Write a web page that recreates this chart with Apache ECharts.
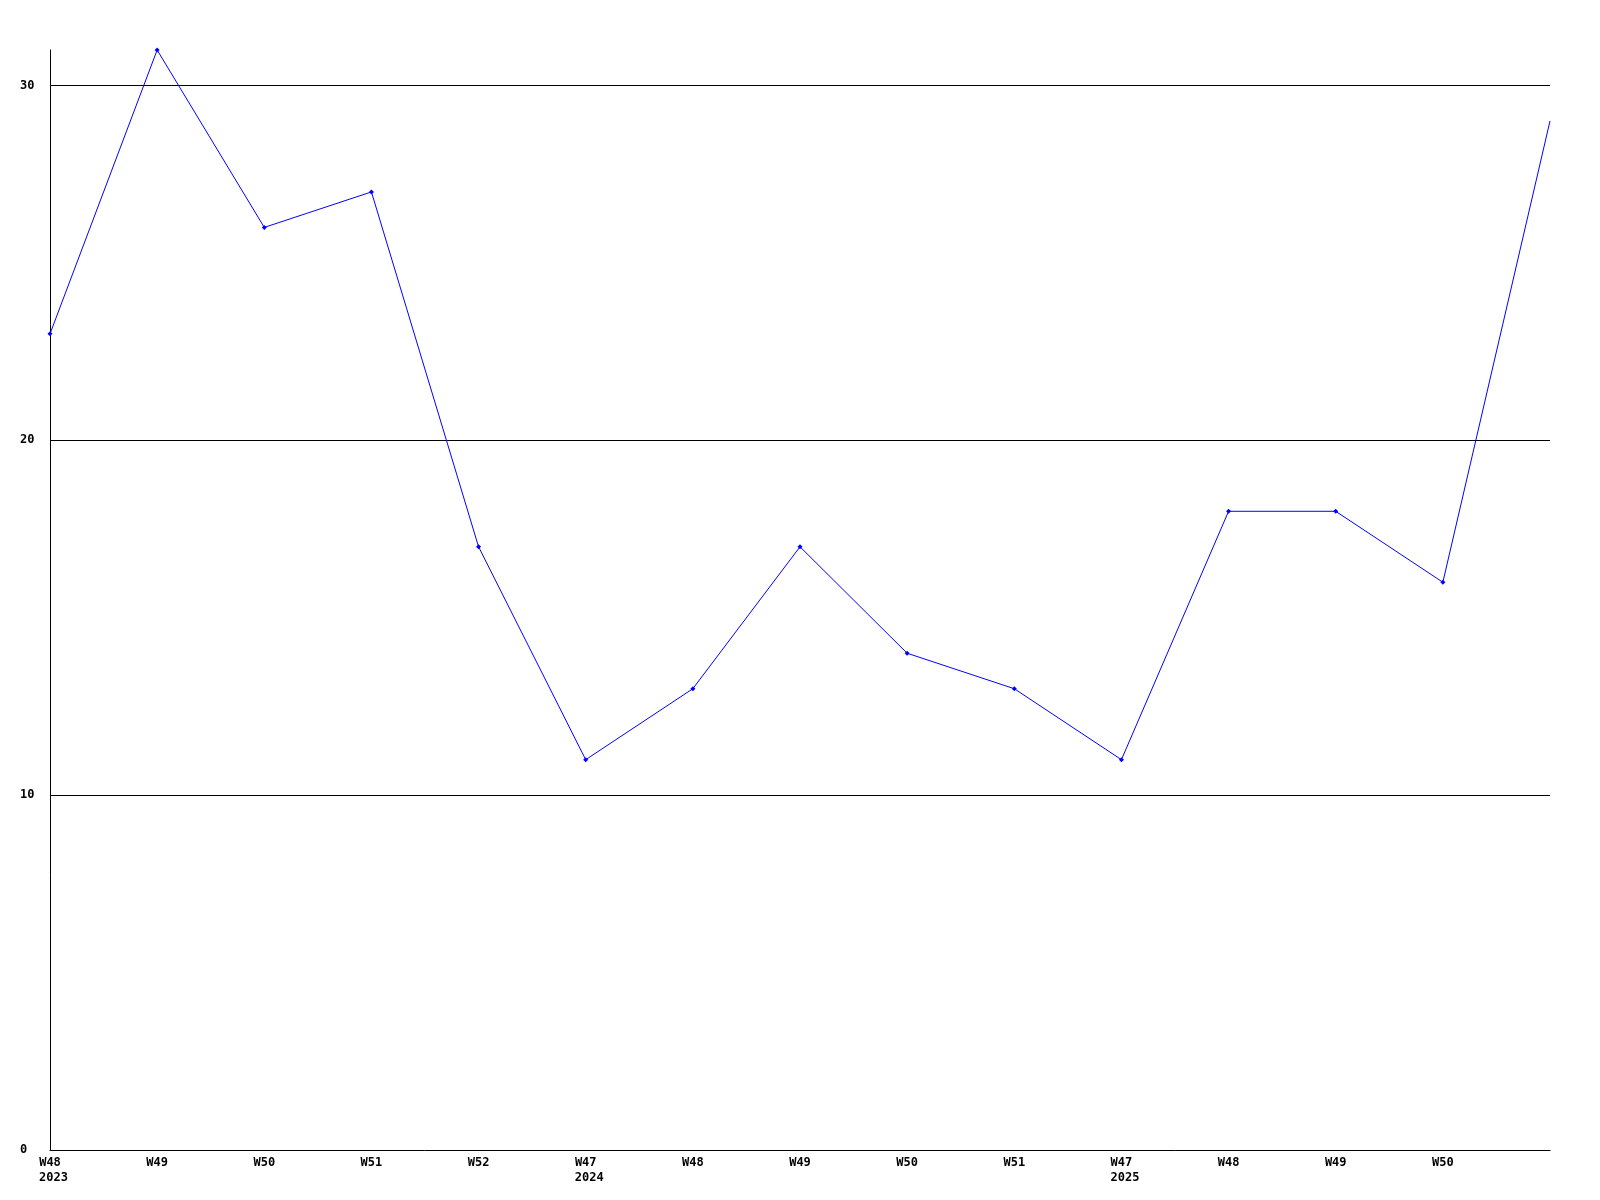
<!DOCTYPE html>
<html>
<head>
<meta charset="utf-8">
<script src="https://cdn.jsdelivr.net/npm/echarts@6/dist/echarts.min.js"></script>
<style>
html,body{margin:0;padding:0;background:#fff;}
#chart{width:1600px;height:1200px;}
</style>
</head>
<body>
<div id="chart"></div>
<script>
var weeks = ['W48','W49','W50','W51','W52','W47','W48','W49','W50','W51','W47','W48','W49','W50',''];
var years = ['2023','','','','','2024','','','','','2025','','','',''];
var values = [23, 31, 26, 27, 17, 11, 13, 17, 14, 13, 11, 18, 18, 16, 29];
var yTicks = [0, 10, 20, 30];

var categories = weeks.map(function(w, i){ return i; });
var chart = echarts.init(document.getElementById('chart'), null, {renderer:'canvas'});
var font = '"DejaVu Sans Mono", monospace';
chart.setOption({
  animation: false,
  backgroundColor: '#ffffff',
  grid: {left: 50, right: 50, top: 50, bottom: 50, containLabel: false},
  xAxis: {
    type: 'category',
    data: categories,
    boundaryGap: false,
    axisLine: {show: true, lineStyle: {color: '#000', width: 1}},
    axisTick: {show: false},
    splitLine: {show: false},
    axisLabel: {
      interval: 0,
      margin: 5,
      formatter: function(v, i){
        var s = '{w|' + weeks[i] + '}';
        if (years[i]) s += '\n{y|' + years[i] + '}';
        return s;
      },
      rich: {
        w: {fontFamily: font, fontWeight: 'bold', fontSize: 12, color: '#000', lineHeight: 15},
        y: {fontFamily: font, fontWeight: 'bold', fontSize: 12, color: '#000', lineHeight: 15, padding: [0,0,0,7]}
      }
    }
  },
  yAxis: {
    type: 'value',
    min: 0,
    max: 31,
    interval: 10,
    axisLine: {show: true, lineStyle: {color: '#000', width: 1}},
    axisTick: {show: false},
    splitLine: {show: true, showMinLine: false, showMaxLine: false, lineStyle: {color: '#000', width: 1}},
    axisLabel: {
      showMaxLabel: false,
      align: 'left',
      margin: 30,
      fontFamily: font,
      fontWeight: 'bold',
      fontSize: 12,
      color: '#000',
      formatter: function(v){ return yTicks.indexOf(v) >= 0 ? String(v) : ''; }
    }
  },
  series: [{
    type: 'line',
    data: values.map(function(v, i){
      return i === values.length - 1 ? {value: v, symbol: 'none'} : v;
    }),
    symbol: 'diamond',
    symbolSize: 5,
    showAllSymbol: true,
    lineStyle: {color: '#0000ff', width: 1},
    itemStyle: {color: '#0000ff'},
    emphasis: {disabled: true}
  }]
});
</script>
</body>
</html>
